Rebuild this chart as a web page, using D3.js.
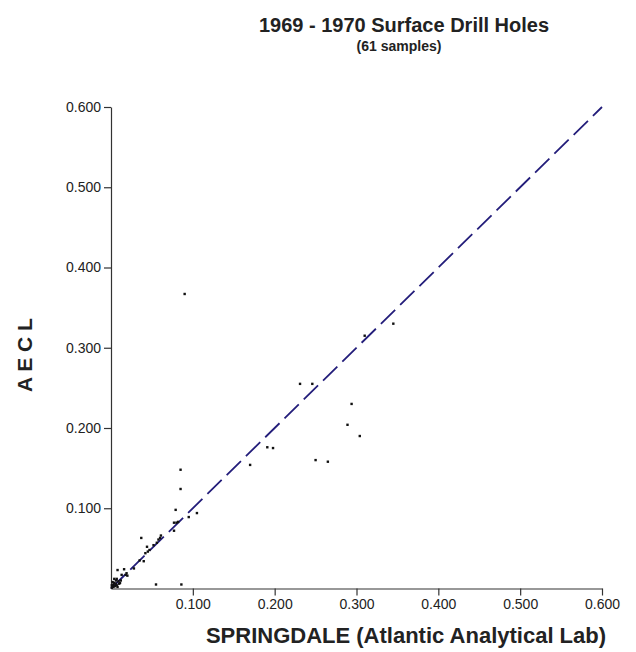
<!DOCTYPE html>
<html>
<head>
<meta charset="utf-8">
<script src="https://cdn.jsdelivr.net/npm/d3@7"></script>
<style>
  html, body { margin: 0; padding: 0; background: #fff; }
  svg { display: block; font-family: "Liberation Sans", Arial, sans-serif; }
</style>
</head>
<body>
<svg id="chart" width="636" height="652"></svg>
<script>
// Uranium assay comparison: Springdale lab (x) vs AECL (y)
const springdale = [
  0.090, 0.345, 0.310, 0.231, 0.246, 0.294, 0.289, 0.304, 0.191, 0.198,
  0.170, 0.250, 0.265, 0.085, 0.085, 0.079, 0.105, 0.095, 0.077, 0.082,
  0.080, 0.077, 0.037, 0.061, 0.058, 0.060, 0.056, 0.052, 0.044, 0.045,
  0.047, 0.042, 0.035, 0.040, 0.028, 0.016, 0.008, 0.018, 0.019, 0.020,
  0.013, 0.007, 0.006, 0.009, 0.055, 0.086, 0.003, 0.004, 0.006, 0.002,
  0.010, 0.011, 0.003, 0.005, 0.001, 0.002, 0.007, 0.004, 0.012, 0.001,
  0.008
];
const aecl = [
  0.367, 0.330, 0.315, 0.255, 0.255, 0.230, 0.204, 0.190, 0.176, 0.175,
  0.154, 0.160, 0.158, 0.148, 0.124, 0.098, 0.094, 0.089, 0.082, 0.083,
  0.082, 0.072, 0.063, 0.066, 0.061, 0.063, 0.057, 0.054, 0.052, 0.046,
  0.048, 0.044, 0.035, 0.034, 0.025, 0.024, 0.023, 0.017, 0.019, 0.016,
  0.017, 0.012, 0.010, 0.009, 0.005, 0.005, 0.005, 0.007, 0.006, 0.003,
  0.006, 0.007, 0.002, 0.003, 0.001, 0.008, 0.004, 0.012, 0.010, 0.004,
  0.002
];
const tickValues = [0.1, 0.2, 0.3, 0.4, 0.5, 0.6];
const domainMax = 0.6;
const titleText = "1969 - 1970 Surface Drill Holes";
const subtitleText = "(61 samples)";
const xLabel = "SPRINGDALE (Atlantic Analytical Lab)";
const yLabel = "A E C L";

const svg = d3.select("#chart");
const x = d3.scaleLinear().domain([0, domainMax]).range([111, 602]);
const y = d3.scaleLinear().domain([0, domainMax]).range([588.5, 107]);
const fmt = d3.format(".3f");

// axes
const xAxis = d3.axisBottom(x).tickValues(tickValues).tickFormat(fmt)
  .tickSize(7).tickSizeOuter(0).tickPadding(4);
const yAxis = d3.axisLeft(y).tickValues(tickValues).tickFormat(fmt)
  .tickSize(7).tickSizeOuter(0).tickPadding(3);

const gx = svg.append("g").attr("transform", `translate(0,${y(0)})`).call(xAxis);
const gy = svg.append("g").attr("transform", `translate(${x(0)},0)`).call(yAxis);
[gx, gy].forEach(g => {
  g.selectAll("path, line").attr("stroke", "#333").attr("stroke-width", 1.2);
  g.selectAll("text").attr("fill", "#222").style("font-size", "14px");
});

// 1:1 reference line
svg.append("line")
  .attr("x1", x(0)).attr("y1", y(0))
  .attr("x2", x(domainMax)).attr("y2", y(domainMax))
  .attr("stroke", "#231d7a").attr("stroke-width", 1.8)
  .attr("stroke-dasharray", "20 7");

// sample points
svg.append("g").selectAll("rect")
  .data(springdale.map((v, i) => [v, aecl[i]]))
  .join("rect")
  .attr("x", d => x(d[0]) - 1.2).attr("y", d => y(d[1]) - 1.2)
  .attr("width", 2.4).attr("height", 2.4)
  .attr("fill", "#111");

// titles
svg.append("text").attr("x", 404).attr("y", 32).attr("text-anchor", "middle")
  .style("font-size", "20px").style("font-weight", "bold").attr("fill", "#222")
  .text(titleText);
svg.append("text").attr("x", 399).attr("y", 51).attr("text-anchor", "middle")
  .style("font-size", "14px").style("font-weight", "bold").attr("fill", "#222")
  .text(subtitleText);
svg.append("text").attr("x", 406).attr("y", 643).attr("text-anchor", "middle")
  .style("font-size", "22px").style("font-weight", "bold").attr("fill", "#222")
  .text(xLabel);
svg.append("text").attr("transform", "translate(32,355) rotate(-90)")
  .attr("text-anchor", "middle")
  .style("font-size", "21px").style("font-weight", "bold").attr("fill", "#222")
  .text(yLabel);
</script>
</body>
</html>
